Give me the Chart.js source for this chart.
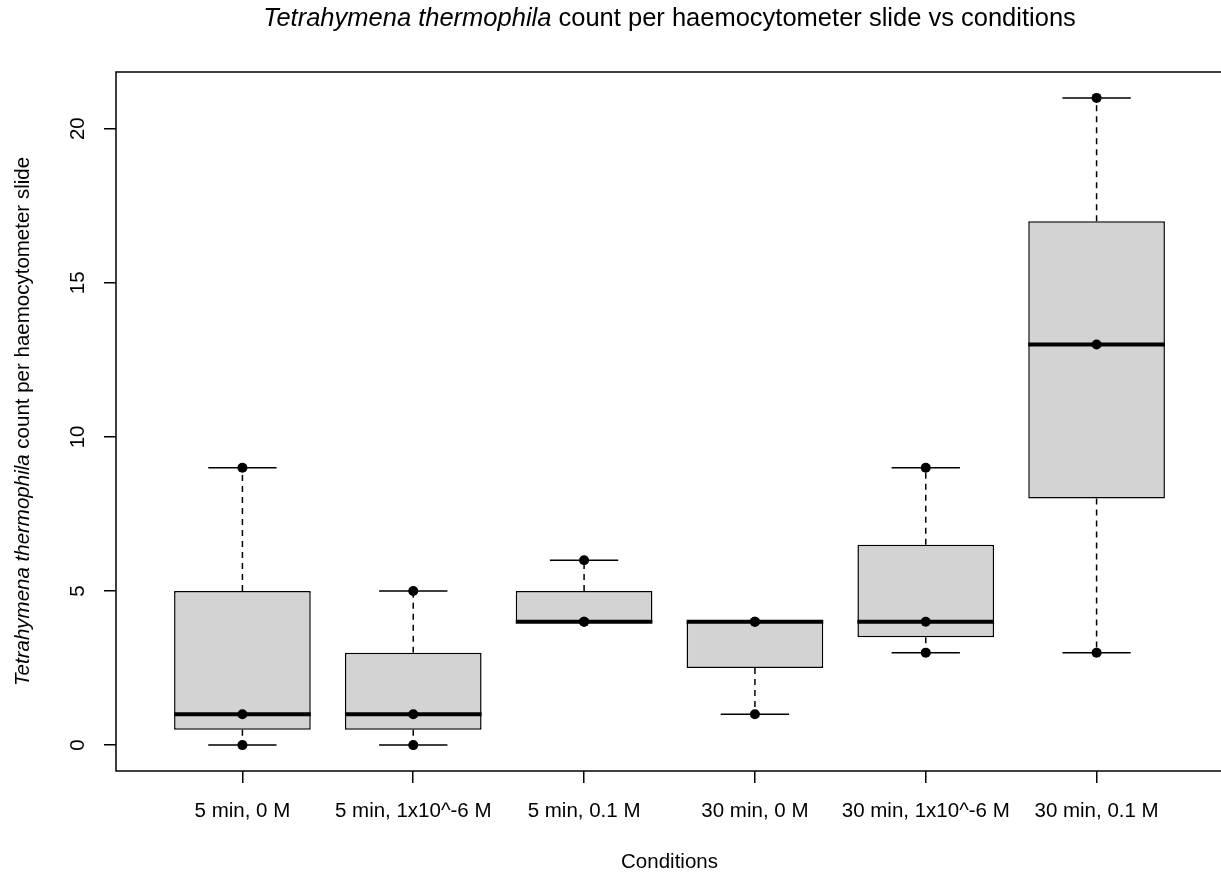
<!DOCTYPE html>
<html>
<head>
<meta charset="utf-8">
<script src="https://cdn.jsdelivr.net/npm/chart.js@4"></script>
<style>
    html, body { margin: 0; padding: 0; background: #fff; overflow: hidden; }
    #wrap { width: 1228px; height: 875px; }
</style>
</head>
<body>
<div id="wrap"><canvas id="boxChart" width="1228" height="875"></canvas></div>
<script>
// Daten der Boxplots
const categories = ['5 min, 0 M', '5 min, 1x10^-6 M', '5 min, 0.1 M', '30 min, 0 M', '30 min, 1x10^-6 M', '30 min, 0.1 M'];
const whiskerLow = [0, 0, 4, 1, 3, 3];
const lowerQuartile = [0.5, 0.5, 4, 2.5, 3.5, 8];
const medians = [1, 1, 4, 4, 4, 13];
const upperQuartile = [5, 3, 5, 4, 6.5, 17];
const whiskerHigh = [9, 5, 6, 4, 9, 21];
const observations = [[0, 1, 9], [0, 1, 5], [4, 4, 6], [1, 4, 4], [3, 4, 9], [3, 13, 21]];
const yTicks = [0, 5, 10, 15, 20];

const FONT = '"Liberation Sans", Arial, sans-serif';

// Whisker, Mediane, Rahmen und Beschriftungen selbst zeichnen
const boxplotExtras = {
    id: 'boxplotExtras',
    beforeDatasetsDraw(chart) {
        const { ctx, scales: { x, y } } = chart;
        ctx.save();
        ctx.strokeStyle = '#000';
        ctx.lineWidth = 1.5;
        categories.forEach((_, i) => {
            const cx = x.getPixelForValue(i + 1);
            const capL = x.getPixelForValue(i + 1 - 0.2);
            const capR = x.getPixelForValue(i + 1 + 0.2);
            ctx.setLineDash([6, 5]);
            ctx.beginPath();
            ctx.moveTo(cx, y.getPixelForValue(upperQuartile[i]));
            ctx.lineTo(cx, y.getPixelForValue(whiskerHigh[i]));
            ctx.moveTo(cx, y.getPixelForValue(lowerQuartile[i]));
            ctx.lineTo(cx, y.getPixelForValue(whiskerLow[i]));
            ctx.stroke();
            ctx.setLineDash([]);
            ctx.beginPath();
            ctx.moveTo(capL, y.getPixelForValue(whiskerHigh[i]));
            ctx.lineTo(capR, y.getPixelForValue(whiskerHigh[i]));
            ctx.moveTo(capL, y.getPixelForValue(whiskerLow[i]));
            ctx.lineTo(capR, y.getPixelForValue(whiskerLow[i]));
            ctx.stroke();
        });
        ctx.restore();
    },
    afterDatasetDraw(chart, args) {
        if (args.meta.type !== 'bar') return;
        const { ctx, scales: { x, y } } = chart;
        ctx.save();
        ctx.strokeStyle = '#000';
        ctx.lineWidth = 4;
        categories.forEach((_, i) => {
            const my = y.getPixelForValue(medians[i]);
            ctx.beginPath();
            ctx.moveTo(x.getPixelForValue(i + 1 - 0.4), my);
            ctx.lineTo(x.getPixelForValue(i + 1 + 0.4), my);
            ctx.stroke();
        });
        ctx.restore();
    },
    afterDraw(chart) {
        const { ctx, chartArea: area, scales: { y } } = chart;
        ctx.save();
        ctx.strokeStyle = '#000';
        ctx.lineWidth = 1.5;
        ctx.strokeRect(area.left, area.top, area.right - area.left, area.bottom - area.top);

        ctx.fillStyle = '#000';
        ctx.textBaseline = 'middle';
        ctx.textAlign = 'center';

        // y-Achse: Beschriftung parallel zur Achse wie in R
        ctx.font = `20.5px ${FONT}`;
        yTicks.forEach(v => {
            ctx.save();
            ctx.translate(78, y.getPixelForValue(v));
            ctx.rotate(-Math.PI / 2);
            ctx.fillText(String(v), 0, 0);
            ctx.restore();
        });

        // Titel mit kursivem Artnamen
        const centerX = (area.left + area.right) / 2;
        const centerY = (area.top + area.bottom) / 2;
        const drawMixed = (italicPart, plainPart, size, px, py, angle) => {
            ctx.save();
            ctx.translate(px, py);
            ctx.rotate(angle);
            ctx.textAlign = 'left';
            ctx.font = `italic ${size}px ${FONT}`;
            const w1 = ctx.measureText(italicPart).width;
            ctx.font = `${size}px ${FONT}`;
            const w2 = ctx.measureText(plainPart).width;
            const start = -(w1 + w2) / 2;
            ctx.font = `italic ${size}px ${FONT}`;
            ctx.fillText(italicPart, start, 0);
            ctx.font = `${size}px ${FONT}`;
            ctx.fillText(plainPart, start + w1, 0);
            ctx.restore();
        };
        drawMixed('Tetrahymena thermophila', ' count per haemocytometer slide vs conditions', 25.5, centerX, 19, 0);
        drawMixed('Tetrahymena thermophila', ' count per haemocytometer slide', 20.5, 23, centerY, -Math.PI / 2);

        ctx.font = `20.5px ${FONT}`;
        ctx.textAlign = 'center';
        ctx.fillText('Conditions', centerX, 862);
        ctx.restore();
    }
};

document.addEventListener("DOMContentLoaded", function () {
    const ctx = document.getElementById('boxChart').getContext('2d');

    new Chart(ctx, {
        data: {
            datasets: [
                {
                    type: 'bar',
                    data: categories.map((_, i) => ({ x: i + 1, y: [lowerQuartile[i], upperQuartile[i]] })),
                    backgroundColor: '#D3D3D3',
                    borderColor: '#000',
                    borderWidth: 1.5,
                    borderSkipped: false,
                    categoryPercentage: 1,
                    barPercentage: 0.8,
                    order: 2
                },
                {
                    type: 'scatter',
                    data: observations.flatMap((vals, i) => vals.map(v => ({ x: i + 1, y: v }))),
                    backgroundColor: '#000',
                    borderWidth: 0,
                    pointRadius: 5,
                    order: 1
                }
            ]
        },
        options: {
            responsive: false,
            animation: false,
            devicePixelRatio: 1,
            layout: { padding: { top: 72, right: 3.3, bottom: 0, left: 0 } },
            plugins: {
                legend: { display: false },
                tooltip: { enabled: false },
                title: { display: false }
            },
            scales: {
                x: {
                    type: 'linear',
                    offset: false,
                    min: 0.26,
                    max: 6.74,
                    afterBuildTicks: s => { s.ticks = categories.map((_, i) => ({ value: i + 1 })); },
                    afterFit: s => { s.height = 104; },
                    ticks: {
                        callback: v => categories[v - 1],
                        color: '#000',
                        font: { family: FONT, size: 20.5 },
                        padding: 16,
                        autoSkip: false,
                        maxRotation: 0
                    },
                    grid: { offset: false, drawOnChartArea: false, tickLength: 12, color: '#000', lineWidth: 1.5 },
                    border: { display: false }
                },
                y: {
                    type: 'linear',
                    min: -0.84,
                    max: 21.84,
                    afterBuildTicks: s => { s.ticks = yTicks.map(v => ({ value: v })); },
                    afterFit: s => { s.width = 116; },
                    ticks: { display: false },
                    grid: { drawOnChartArea: false, tickLength: 12, color: '#000', lineWidth: 1.5 },
                    border: { display: false }
                }
            }
        },
        plugins: [boxplotExtras]
    });
});
</script>
</body>
</html>
